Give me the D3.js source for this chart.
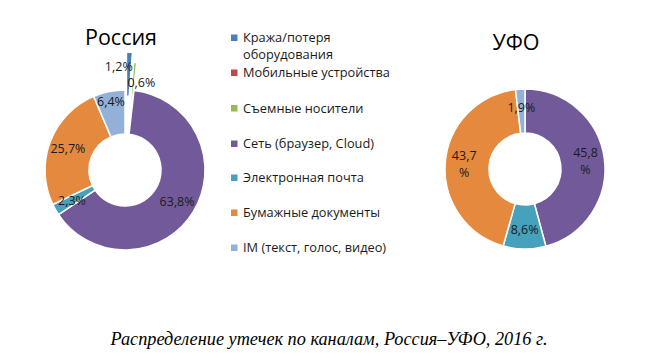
<!DOCTYPE html>
<html><head><meta charset="utf-8">
<script src="https://cdn.jsdelivr.net/npm/d3@7"></script>
<style>html,body{margin:0;padding:0;background:#fff;}svg{display:block;}</style>
</head><body>
<svg id="chart" width="655" height="360"></svg>
<script>
// ---- data ----
const categories = ["Кража/потеря оборудования","Мобильные устройства","Съемные носители","Сеть (браузер, Cloud)","Электронная почта","Бумажные документы","IM (текст, голос, видео)"];
const legendLines = [["Кража/потеря","оборудования"],["Мобильные устройства"],["Съемные носители"],["Сеть (браузер, Cloud)"],["Электронная почта"],["Бумажные документы"],["IM (текст, голос, видео)"]];
const russiaValues = [1.2, 0, 0.6, 63.8, 2.3, 25.7, 6.4];
const ufoValues = [0, 0, 0, 45.8, 8.6, 43.7, 1.9];
const chartTitles = ["Россия", "УФО"];
const caption = "Распределение утечек по каналам, Россия–УФО, 2016 г.";

// ---- style ----
const colors = ["#4A7EBB","#BE4B48","#98B954","#725A9A","#45A1BC","#E5893E","#93B0D8"];
const sans = "'Open Sans', 'Noto Sans', sans-serif";
const svg = d3.select("#chart");
const fmt = d3.formatLocale({decimal:",", thousands:" ", grouping:[3], currency:["",""]}).format(".1f");

function fit(sel, target, base) {
  const w = sel.node().getComputedTextLength();
  sel.attr("font-size", (base * target / w).toFixed(2));
}

// data label font size fitted so "63,8%" is ~35px wide
const probeL = svg.append("text").attr("font-family", sans).attr("font-size", 12).text("63,8%");
const labelFs = (12 * 35 / probeL.node().getComputedTextLength()).toFixed(2);
probeL.remove();

const outerR = 80, innerR = 36;
const pie = d3.pie().sort(null).value(d => d);
const arc = d3.arc().innerRadius(innerR).outerRadius(outerR);

function donut(cx, cy, values, explode, labelOpts, wrapBig) {
  const g = svg.append("g").attr("transform", `translate(${cx},${cy})`);
  const arcs = pie(values);
  arcs.forEach((a, i) => {
    if (a.value <= 0) return;
    const off = explode[i] || 0;
    const mid = (a.startAngle + a.endAngle) / 2;
    const ox = Math.sin(mid) * off, oy = -Math.cos(mid) * off;
    g.append("path").attr("d", arc(a))
      .attr("transform", `translate(${ox},${oy})`)
      .attr("fill", colors[i]).attr("stroke", "#fff").attr("stroke-width", 1.5);
  });
  arcs.forEach((a, i) => {
    if (a.value <= 0) return;
    const off = explode[i] || 0;
    const mid = (a.startAngle + a.endAngle) / 2;
    const o = labelOpts[i] || {};
    const r = (innerR + outerR) / 2 + 3 + off + (o.dr || 0);
    const x = Math.sin(mid) * r + (o.dx || 0), y = -Math.cos(mid) * r + (o.dy || 0);
    const lines = (wrapBig && a.value > 40) ? [fmt(a.value), "%"] : [fmt(a.value) + "%"];
    const lh = 17.5;
    lines.forEach((ln, j) => {
      g.append("text").attr("x", x).attr("y", y + (j - (lines.length - 1) / 2) * lh)
        .attr("dy", "0.35em")
        .attr("text-anchor", o.anchor || "middle")
        .attr("font-family", sans).attr("font-size", labelFs).attr("fill", "#1a1a1a").text(ln);
    });
  });
}

donut(125, 170, russiaValues, {0: 38, 2: 28},
  {0: {anchor: "end", dx: 4, dy: -4}, 2: {anchor: "start", dx: -6, dy: 1}, 6: {dr: 9}}, false);
donut(525, 169, ufoValues, {}, {}, true);

// titles
const t1 = svg.append("text").attr("x", 121).attr("y", 45).attr("text-anchor", "middle")
  .attr("font-family", sans).attr("font-size", 20).attr("fill", "#000").text(chartTitles[0]);
fit(t1, 72, 20);
const t2 = svg.append("text").attr("x", 516).attr("y", 50).attr("text-anchor", "middle")
  .attr("font-family", sans).attr("font-size", 20).attr("fill", "#000").text(chartTitles[1]);
t2.attr("font-size", t1.attr("font-size"));

// legend
const legendY = [[38, 55], [73], [108.5], [144], [178], [213], [248]];
const lg = svg.append("g");
let probe = lg.append("text").attr("font-family", sans).attr("font-size", 12).text("Мобильные устройства");
const w0 = probe.node().getComputedTextLength();
probe.remove();
const lfs = 12 * 147 / w0;
categories.forEach((c, i) => {
  lg.append("rect").attr("x", 231).attr("y", legendY[i][0] - 3.5).attr("width", 6.5).attr("height", 6.5).attr("fill", colors[i]);
  legendLines[i].forEach((ln, j) => {
    lg.append("text").attr("x", 243).attr("y", legendY[i][j]).attr("dy", "0.35em")
      .attr("font-family", sans).attr("font-size", lfs.toFixed(2)).attr("fill", "#1a1a1a").text(ln);
  });
});

// caption
const cap = svg.append("text").attr("x", 329).attr("y", 345).attr("text-anchor", "middle")
  .attr("font-family", "'Liberation Serif', 'Times New Roman', serif").attr("font-style", "italic")
  .attr("font-size", 16).attr("fill", "#000").text(caption);
fit(cap, 437, 16);
</script>
</body></html>
